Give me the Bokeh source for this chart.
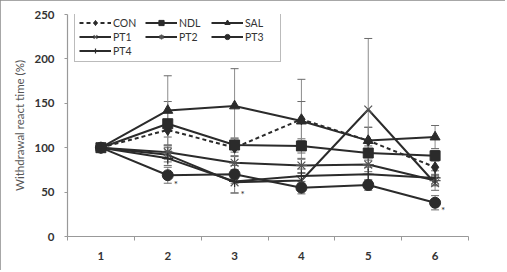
import numpy as np
from bokeh.plotting import figure
from bokeh.models import (ColumnDataSource, Whisker, TeeHead, FixedTicker, Legend,
                          LegendItem, Label)
from bokeh.core.properties import value
from bokeh.embed import file_html
from bokeh.resources import INLINE

weeks = [1, 2, 3, 4, 5, 6]
week_labels = ["1", "2", "3", "4", "5", "6"]

CON = [100, 120, 100, 132, 108, 78]
NDL = [100, 127, 103, 102, 94, 91]
SAL = [100, 142, 147, 130, 108, 112]
PT1 = [100, 92, 61, 63, 143, 60]
PT2 = [100, 95, 83, 80, 81, 63]
PT3 = [100, 69, 70, 55, 58, 38]
PT4 = [100, 88, 62, 68, 70, 66]

CON_sd = [0, 8, 10, 45, 15, 8]
NDL_sd = [0, 25, 8, 8, 8, 6]
SAL_sd = [0, 39, 42, 22, 15, 13]
PT1_sd = [0, 8, 12, 8, 80, 8]
PT2_sd = [0, 8, 8, 8, 8, 6]
PT3_sd = [0, 9, 10, 7, 6, 8]
PT4_sd = [0, 8, 13, 8, 8, 8]

sig_weeks = [2, 3, 6]
sig_y = [59, 48, 30]

series = [
    ("CON", CON, CON_sd, "diamond", 11, "dashed"),
    ("NDL", NDL, NDL_sd, "square", 10, "solid"),
    ("SAL", SAL, SAL_sd, "triangle", 10, "solid"),
    ("PT1", PT1, PT1_sd, "x", 11, "solid"),
    ("PT2", PT2, PT2_sd, "asterisk", 11, "solid"),
    ("PT3", PT3, PT3_sd, "circle", 11, "solid"),
    ("PT4", PT4, PT4_sd, "cross", 11, "solid"),
]

FONT = "Lato"
DARK = "#2b2b2b"

p = figure(width=505, height=270, output_backend="svg", toolbar_location=None,
           x_range=(0.5, 6.5), y_range=(0, 250),
           min_border_left=67, min_border_right=37, min_border_top=14, min_border_bottom=34)
p.styles = {"outline": "1.5px solid #8a8a8a", "outline-offset": "-1px"}
p.outline_line_color = None
p.xgrid.visible = False
p.ygrid.visible = False

# error bars
for name, vals, sd, marker, size, dash in series:
    xs = [w for w, s in zip(weeks, sd) if s > 0]
    up = [v + s for v, s in zip(vals, sd) if s > 0]
    lo = [v - s for v, s in zip(vals, sd) if s > 0]
    src = ColumnDataSource(dict(x=xs, upper=up, lower=lo))
    wk = Whisker(source=src, base="x", upper="upper", lower="lower",
                 line_color="#8c8c8c", line_width=1,
                 upper_head=TeeHead(size=8, line_color="#6a6a6a", line_width=1),
                 lower_head=TeeHead(size=8, line_color="#6a6a6a", line_width=1))
    p.add_layout(wk)

items = []
for name, vals, sd, marker, size, dash in series:
    src = ColumnDataSource(dict(x=weeks, y=vals))
    ln = p.line("x", "y", source=src, line_color=DARK, line_width=2,
                line_dash=("4 3" if dash == "dashed" else "solid"))
    if marker in ("x", "asterisk", "cross"):
        sc = p.scatter("x", "y", source=src, marker=marker, size=size,
                       line_color=("#555555" if marker != "cross" else DARK),
                       line_width=1.2)
    else:
        sc = p.scatter("x", "y", source=src, marker=marker, size=size,
                       fill_color=DARK, line_color=DARK)
    items.append(LegendItem(label=name, renderers=[ln, sc]))

p.text(x=[w + 0.12 for w in sig_weeks], y=sig_y, text=["*"] * len(sig_weeks),
       text_font=value(FONT), text_font_size="10px", text_color=DARK,
       text_align="center", text_baseline="middle")

legend = Legend(items=items, ncols=3, orientation="horizontal", location=(7, 174),
                label_text_font=FONT, label_text_font_size="10.5px",
                label_text_color="#333333", glyph_width=32, glyph_height=13,
                label_standoff=2, spacing=1, padding=4, margin=0,
                label_height=13, label_width=31,
                border_line_color="#777777", border_line_width=1.2,
                background_fill_alpha=1)
p.add_layout(legend)

# axes
xa = p.xaxis[0]
xa.ticker = FixedTicker(ticks=weeks, minor_ticks=[0.5, 1.5, 2.5, 3.5, 4.5, 5.5, 6.5])
xa.major_label_overrides = {w: l for w, l in zip(weeks, week_labels)}
xa.major_tick_out = 0
xa.major_tick_in = 0
xa.minor_tick_out = 4
xa.minor_tick_in = 0
xa.minor_tick_line_color = "#999999"
xa.axis_line_color = "#999999"
xa.axis_line_width = 1.2
xa.major_label_text_font = FONT
xa.major_label_text_font_style = "bold"
xa.major_label_text_font_size = "11.5px"
xa.major_label_text_color = "#333333"
xa.major_label_standoff = 11

ya = p.yaxis[0]
ya.ticker = FixedTicker(ticks=[0, 50, 100, 150, 200, 250])
ya.minor_tick_line_color = None
ya.major_tick_out = 3
ya.major_tick_in = 0
ya.major_tick_line_color = "#999999"
ya.axis_line_color = "#999999"
ya.axis_line_width = 1.2
ya.major_label_text_font = FONT
ya.major_label_text_font_style = "bold"
ya.major_label_text_font_size = "11.5px"
ya.major_label_text_color = "#333333"
ya.major_label_standoff = 10
ya.axis_label = "Withdrawal react time (%)"
ya.axis_label_text_font = FONT
ya.axis_label_text_font_style = "normal"
ya.axis_label_text_font_size = "11.5px"
ya.axis_label_text_color = "#555555"
ya.axis_label_standoff = 5

p.add_layout(Label(x=6.3, y=-18, text="weeks", text_font=FONT, text_font_size="11.5px",
                   text_color="#555555", text_baseline="middle", text_align="left"))

open("out.html", "w").write(file_html(p, INLINE))
